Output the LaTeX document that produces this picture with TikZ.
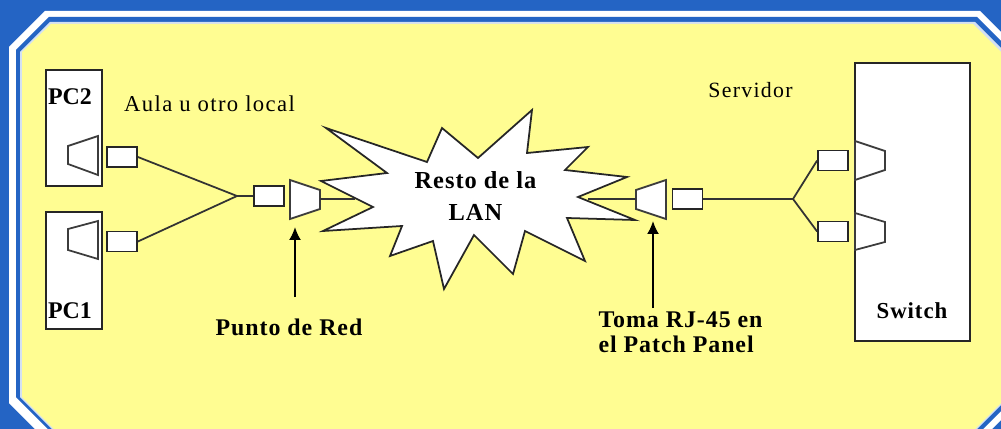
\documentclass[tikz,border=0pt]{standalone}
\usepackage{fontspec}
\setmainfont{Liberation Serif}
\usepackage{xcolor}
\usetikzlibrary{arrows.meta}
\definecolor{slideblue}{HTML}{2464C4}
\definecolor{slideyellow}{HTML}{FFFD92}
\definecolor{portgrey}{HTML}{3C3C3C}
\tikzset{
	box/.style={shape=rectangle,draw=black!85,fill=white,line width=1pt,inner sep=0pt},
	plug/.style={box,minimum width=0.6cm,minimum height=0.4cm},
	port/.style={draw=portgrey,fill=white,line width=1pt,line join=miter},
	wire/.style={draw=black!80,line width=1pt},
	pointer/.style={-{Latex[length=0.26cm,width=0.24cm]},line width=1.1pt},
	label/.style={inner sep=0pt,align=center,font=\fontsize{12.9}{14}\selectfont\addfontfeature{LetterSpace=6}},
	blabel/.style={inner sep=0pt,align=left,font=\fontsize{13.6}{14.2}\selectfont\bfseries\addfontfeature{LetterSpace=4}}
}
\begin{document}
\begin{tikzpicture}[x=0.02cm,y=-0.02cm]
	\useasboundingbox (0,0) rectangle (1001,429);
	% frame
	\fill[slideblue] (0,0) rectangle (1001,429);
	\fill[white] (9,47) -- (45,11) -- (980,11) -- (1012,43) -- (1012,409) -- (981,440) -- (46,440) -- (9,403) -- cycle;
	\fill[slideblue] (16,50) -- (49,17) -- (977,17) -- (1012,52) -- (1012,400) -- (972,440) -- (59,440) -- (16,397) -- cycle;
	\fill[white!80!slideblue] (20,52) -- (50,22) -- (975,22) -- (1012,59) -- (1012,394) -- (966,440) -- (63,440) -- (20,397) -- cycle;
	\fill[slideyellow] (22,52) -- (51,24) -- (973,24) -- (1012,63) -- (1012,392) -- (964,440) -- (65,440) -- (22,397) -- cycle;
	% equipos
	\node[box,minimum width=1.12cm,minimum height=2.32cm] (pc2) at (74,128) {};
	\node[box,minimum width=1.12cm,minimum height=2.34cm] (pc1) at (74,270.5) {};
	\node[box,minimum width=2.3cm,minimum height=5.56cm] (switch) at (912.5,202) {};
	\node[label,font=\fontsize{13.6}{16}\selectfont\bfseries] (pc2text) at (70,97) {PC2};
	\node[label,font=\fontsize{13.6}{16}\selectfont\bfseries] (pc1text) at (70,311) {PC1};
	\node[blabel,font=\fontsize{13}{14}\selectfont\bfseries\addfontfeature{LetterSpace=4}] (switchtext) at (912,311) {Switch};
	% resto de la red
	\draw[port,draw=black!85] (326,128) -- (427,162) -- (442,128) -- (478,158) -- (532,110) -- (527,153) -- (588,147) -- (565,170) -- (627,177) -- (578,197) -- (635,220) -- (567,218) -- (585,261) -- (525,231) -- (513,274) -- (474,235) -- (444,289) -- (433,241) -- (390,256) -- (402,226) -- (323,231) -- (373,207) -- (321,181) -- (387,173) -- cycle;
	\node[blabel,align=center,font=\fontsize{13.9}{18.2}\selectfont\bfseries\addfontfeature{LetterSpace=4}] (lan) at (475.5,196) {Resto de la\\LAN};
	% tomas
	\draw[port] (68,146) -- (98,136) -- (98,175) -- (68,164) -- cycle;
	\draw[port] (68,229) -- (98,221) -- (98,259) -- (68,250) -- cycle;
	\draw[port] (290,180) -- (320,190) -- (320,209) -- (290,219) -- cycle;
	\draw[port] (636,190) -- (666,180) -- (666,219) -- (636,209) -- cycle;
	\draw[port] (855,141) -- (885,151) -- (885,170) -- (855,180) -- cycle;
	\draw[port] (855,213) -- (885,222) -- (885,242) -- (855,250) -- cycle;
	% latiguillos
	\node[plug] (plugtwo) at (122,157) {};
	\node[plug] (plugone) at (122,241.5) {};
	\node[plug] (plugred) at (269,196) {};
	\node[plug] (plugpanel) at (687.5,199) {};
	\node[plug] (plugsw) at (833,160.5) {};
	\node[plug] (plugswb) at (833,231.5) {};
	\coordinate (joinpc) at (237,196);
	\coordinate (joinsw) at (793,199);
	\coordinate (redout) at (320,199);
	\coordinate (cloudl) at (355,199);
	\coordinate (cloudr) at (588,199);
	\coordinate (panelin) at (636,199);
	\path[wire] (plugtwo.east) edge (joinpc);
	\path[wire] (plugone.east) edge (joinpc);
	\path[wire] (joinpc) edge (plugred.west);
	\path[wire] (redout) edge (cloudl);
	\path[wire] (cloudr) edge (panelin);
	\path[wire] (plugpanel.east) edge (joinsw);
	\path[wire] (joinsw) edge (plugsw.west);
	\path[wire] (joinsw) edge (plugswb.west);
	% textos
	\node[label] (aula) at (209.5,104) {Aula u otro local};
	\node[label,font=\fontsize{12.4}{14}\selectfont\addfontfeature{LetterSpace=6}] (servidor) at (750.5,90) {Servidor};
	\node[blabel] (punto) at (289,327) {Punto de Red};
	\node[blabel] (toma) at (680.5,332) {Toma RJ-45 en\\el Patch Panel};
	% flechas
	\coordinate (tipred) at (295,227);
	\coordinate (tippanel) at (653,221);
	\coordinate (tailred) at (295,297);
	\coordinate (tailpanel) at (653,308);
	\draw[pointer] (tailred) -- (tipred);
	\draw[pointer] (tailpanel) -- (tippanel);
\end{tikzpicture}
\end{document}
